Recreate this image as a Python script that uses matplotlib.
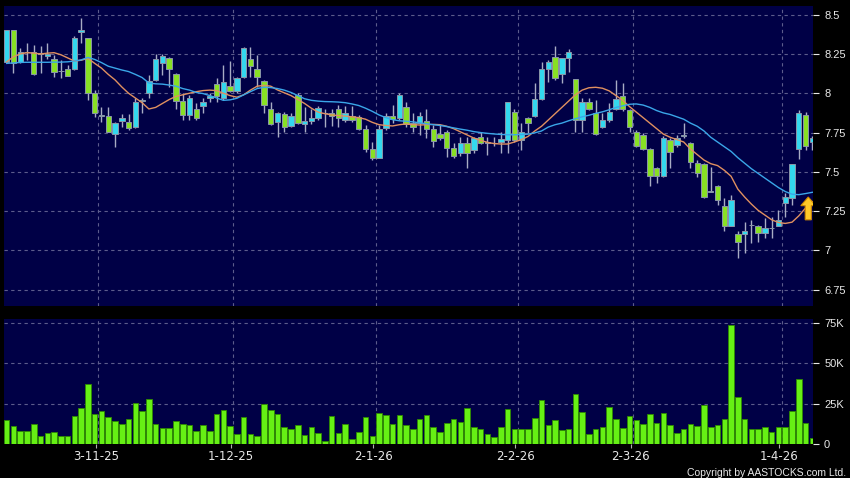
import numpy as np
import matplotlib
matplotlib.use('Agg')
import matplotlib.pyplot as plt
from matplotlib.patches import FancyArrow

# 日K数据
opens = [
    8.20, 8.40, 8.20, 8.26, 8.26, 8.25, 8.235, 8.22, 8.14, 8.155,
    8.155, 8.39, 8.35, 8.00, 7.856, 7.856, 7.74, 7.825, 7.82, 7.784,
    7.951, 8.00, 8.085, 8.191, 8.227, 8.121, 7.951, 7.862, 7.898, 7.922,
    7.972, 8.059, 7.968, 8.047, 8.015, 8.106, 8.22, 8.157, 8.081, 7.898,
    7.82, 7.869, 7.792, 7.989, 7.805, 7.824, 7.841, 7.873, 7.877, 7.898,
    7.83, 7.856, 7.852, 7.771, 7.644, 7.591, 7.778, 7.858, 7.841, 7.911,
    7.809, 7.809, 7.826, 7.771, 7.739, 7.752, 7.65, 7.619, 7.682, 7.636,
    7.72, 7.686, 7.682, 7.689, 7.703, 7.879, 7.703, 7.841, 7.856, 7.962,
    8.153, 8.229, 8.121, 8.222, 8.089, 7.83, 7.943, 7.877, 7.784, 7.83,
    7.898, 7.983, 7.894, 7.752, 7.735, 7.644, 7.523, 7.475, 7.703, 7.672,
    7.729, 7.686, 7.559, 7.549, 7.371, 7.411, 7.284, 7.157, 7.104, 7.106,
    7.159, 7.153, 7.11, 7.142, 7.157, 7.301, 7.333, 7.644, 7.862, 7.689,
]
closes = [
    8.40, 8.19, 8.26, 8.26, 8.12, 8.25, 8.25, 8.135, 8.14, 8.11,
    8.35, 8.40, 8.00, 7.877, 7.856, 7.756, 7.81, 7.84, 7.782, 7.943,
    7.951, 8.08, 8.218, 8.239, 8.153, 7.953, 7.862, 7.968, 7.841, 7.943,
    7.985, 7.983, 8.07, 8.015, 8.10, 8.29, 8.174, 8.106, 7.926, 7.805,
    7.873, 7.788, 7.856, 7.809, 7.826, 7.841, 7.909, 7.873, 7.856, 7.841,
    7.873, 7.83, 7.771, 7.646, 7.591, 7.771, 7.856, 7.837, 7.989, 7.803,
    7.784, 7.856, 7.771, 7.699, 7.718, 7.65, 7.602, 7.682, 7.619, 7.714,
    7.682, 7.686, 7.682, 7.708, 7.943, 7.703, 7.752, 7.809, 7.962, 8.153,
    8.201, 8.10, 8.222, 8.26, 7.83, 7.943, 7.90, 7.739, 7.83, 7.883,
    7.962, 7.898, 7.788, 7.667, 7.644, 7.475, 7.475, 7.714, 7.629, 7.714,
    7.729, 7.561, 7.492, 7.337, 7.379, 7.322, 7.157, 7.322, 7.051, 7.121,
    7.159, 7.11, 7.142, 7.142, 7.195, 7.343, 7.549, 7.873, 7.665, 7.718,
]
highs = [
    8.40, 8.40, 8.29, 8.32, 8.31, 8.30, 8.32, 8.245, 8.21, 8.18,
    8.365, 8.48, 8.35, 8.02, 7.91, 7.91, 7.82, 7.87, 7.87, 7.968,
    7.968, 8.117, 8.248, 8.248, 8.233, 8.127, 8.0, 7.99, 7.936, 7.968,
    8.0, 8.095, 8.18, 8.208, 8.106, 8.297, 8.292, 8.244, 8.085, 7.947,
    7.883, 7.883, 7.877, 8.0, 7.915, 7.90, 7.92, 7.90, 7.90, 7.926,
    7.92, 7.92, 7.862, 7.80, 7.693, 7.80, 7.873, 7.926, 8.0, 7.947,
    7.873, 7.883, 7.898, 7.80, 7.80, 7.765, 7.682, 7.72, 7.72, 7.72,
    7.756, 7.72, 7.72, 7.756, 7.947, 7.90, 7.809, 7.847, 8.068, 8.201,
    8.21, 8.30, 8.222, 8.282, 8.089, 7.968, 7.968, 7.958, 7.877, 7.936,
    8.085, 8.068, 7.898, 7.767, 7.746, 7.65, 7.534, 7.725, 7.714, 7.735,
    7.809, 7.693, 7.576, 7.555, 7.534, 7.417, 7.333, 7.354, 7.121, 7.184,
    7.195, 7.163, 7.205, 7.216, 7.258, 7.364, 7.549, 7.894, 7.883, 7.725,
]
lows = [
    8.19, 8.13, 8.19, 8.21, 8.115, 8.13, 8.22, 8.105, 8.10, 8.11,
    8.15, 8.32, 7.96, 7.85, 7.82, 7.752, 7.66, 7.785, 7.767, 7.78,
    7.877, 7.968, 8.08, 8.117, 8.042, 7.90, 7.83, 7.83, 7.83, 7.873,
    7.947, 7.947, 7.958, 8.011, 8.0, 8.10, 8.106, 8.042, 7.877, 7.80,
    7.72, 7.756, 7.788, 7.805, 7.756, 7.805, 7.83, 7.788, 7.79, 7.788,
    7.82, 7.82, 7.767, 7.629, 7.576, 7.589, 7.767, 7.81, 7.83, 7.788,
    7.756, 7.735, 7.714, 7.661, 7.70, 7.597, 7.59, 7.60, 7.523, 7.62,
    7.676, 7.61, 7.665, 7.62, 7.62, 7.693, 7.64, 7.75, 7.847, 7.958,
    8.074, 8.085, 8.064, 8.138, 7.756, 7.756, 7.894, 7.735, 7.778, 7.82,
    7.894, 7.887, 7.752, 7.66, 7.64, 7.411, 7.43, 7.47, 7.523, 7.66,
    7.714, 7.523, 7.47, 7.333, 7.369, 7.29, 7.127, 7.153, 6.951, 6.983,
    7.047, 7.057, 7.078, 7.078, 7.153, 7.216, 7.29, 7.58, 7.64, 7.64,
]

# 成交量 (千股)
volume_k = [
    14.6, 11.0, 7.9, 8.3, 12.1, 5.2, 6.9, 7.7, 5.2, 5.2,
    17.1, 22.1, 37.1, 18.5, 20.6, 16.7, 14.0, 12.7, 15.8, 25.2,
    20.4, 27.7, 12.1, 9.8, 10.2, 14.2, 12.1, 11.9, 8.3, 11.5,
    7.9, 18.3, 21.3, 11.0, 6.5, 16.7, 6.5, 5.2, 24.6, 21.3,
    18.3, 10.4, 9.0, 11.5, 5.8, 10.6, 6.9, 1.9, 17.1, 6.9,
    12.1, 3.1, 7.7, 16.5, 5.2, 19.0, 17.7, 12.5, 18.1, 11.5,
    9.0, 15.2, 18.1, 10.8, 7.3, 13.3, 15.2, 13.75, 22.5, 10.8,
    9.4, 6.25, 4.4, 10.4, 21.5, 9.6, 9.0, 9.0, 16.25, 27.1,
    11.7, 15.0, 8.5, 9.6, 31.25, 19.6, 6.5, 9.0, 10.8, 22.7,
    15.8, 9.8, 17.1, 14.8, 12.7, 18.3, 13.3, 19.4, 11.5, 7.1,
    9.2, 12.1, 11.0, 24.4, 10.8, 11.9, 15.8, 74.0, 29.2, 15.6,
    9.6, 9.2, 10.8, 7.7, 10.6, 10.6, 20.4, 40.0, 12.9, 4.0,
]

# 移动平均线
ma_fast = [
    8.20, 8.232, 8.25, 8.258, 8.255, 8.25, 8.255, 8.258, 8.245, 8.225,
    8.205, 8.21, 8.222, 8.19, 8.16, 8.12, 8.085, 8.04, 8.0, 7.97,
    7.94, 7.90, 7.91, 7.935, 7.96, 7.98, 7.99, 8.0, 8.01, 8.017,
    8.02, 8.017, 8.0, 7.985, 7.975, 7.99, 8.02, 8.045, 8.05, 8.045,
    8.021, 8.003, 7.985, 7.96, 7.935, 7.905, 7.88, 7.87, 7.862, 7.858,
    7.855, 7.85, 7.845, 7.835, 7.815, 7.80, 7.795, 7.792, 7.80, 7.805,
    7.80, 7.798, 7.80, 7.802, 7.80, 7.79, 7.775, 7.755, 7.735, 7.715,
    7.70, 7.688, 7.68, 7.677, 7.677, 7.69, 7.705, 7.725, 7.76, 7.79,
    7.83, 7.87, 7.91, 7.95, 7.99, 8.02, 8.035, 8.038, 8.032, 8.015,
    7.985, 7.955, 7.915, 7.88, 7.845, 7.81, 7.775, 7.74, 7.72, 7.705,
    7.69, 7.645, 7.61, 7.575, 7.552, 7.54, 7.51, 7.472, 7.39, 7.34,
    7.295, 7.255, 7.225, 7.195, 7.178, 7.172, 7.18, 7.22, 7.27, 7.31,
]
ma_slow = [
    8.19, 8.193, 8.196, 8.197, 8.197, 8.197, 8.197, 8.198, 8.198, 8.20,
    8.205, 8.212, 8.228, 8.215, 8.195, 8.172, 8.16, 8.148, 8.138, 8.12,
    8.10, 8.065, 8.06, 8.058, 8.052, 8.045, 8.03, 8.02, 8.005, 7.998,
    7.985, 7.97, 7.955, 7.958, 7.968, 7.99, 8.01, 8.03, 8.038, 8.036,
    8.03, 8.02, 8.005, 7.985, 7.965, 7.955, 7.95, 7.947, 7.946, 7.944,
    7.94, 7.932, 7.922, 7.905, 7.885, 7.862, 7.845, 7.832, 7.825, 7.822,
    7.818, 7.812, 7.806, 7.80, 7.795, 7.788, 7.78, 7.772, 7.765, 7.756,
    7.75, 7.745, 7.741, 7.738, 7.736, 7.736, 7.737, 7.74, 7.748, 7.76,
    7.785, 7.80, 7.81, 7.825, 7.838, 7.85, 7.86, 7.872, 7.882, 7.895,
    7.91, 7.92, 7.93, 7.932, 7.925, 7.91, 7.89, 7.875, 7.865, 7.85,
    7.835, 7.81, 7.79, 7.76, 7.72, 7.69, 7.66, 7.63, 7.59, 7.555,
    7.52, 7.49, 7.46, 7.43, 7.40, 7.375, 7.358, 7.355, 7.362, 7.37,
]

date_idx = [13, 33, 54, 75, 92, 114]
date_labels = ['3-11-25', '1-12-25', '2-1-26', '2-2-26', '2-3-26', '1-4-26']
price_ticks = [6.75, 7, 7.25, 7.5, 7.75, 8, 8.25, 8.5]
price_tick_labels = ['6.75', '7', '7.25', '7.5', '7.75', '8', '8.25', '8.5']
vol_ticks = [0, 25, 50, 75]
vol_tick_labels = ['0', '25K', '50K', '75K']

# 颜色
bg = '#000046'
up_c = '#33d8ee'
dn_c = '#88e024'
grid_c = '#5c5c8c'
txt_c = '#e8e8e8'

o = np.array(opens)
c = np.array(closes)
h = np.array(highs)
l = np.array(lows)
x = np.arange(len(o))

fig = plt.figure(figsize=(8.5, 4.78), dpi=100, facecolor='black')
ax1 = fig.add_axes([4/850, 1-305.5/478, 809/850, 299.5/478])
ax2 = fig.add_axes([4/850, 1-444/478, 809/850, 125/478])

for ax in (ax1, ax2):
    ax.set_facecolor(bg)
    for s in ax.spines.values():
        s.set_visible(False)
    ax.set_xlim(-0.4, len(o) - 0.9)
    for d in date_idx:
        ax.axvline(d + 0.5, color=grid_c, lw=0.8, ls=(0, (3, 3)), zorder=0)
    ax.yaxis.tick_right()
    ax.tick_params(axis='y', colors=txt_c, labelsize=8, length=4, width=0.8,
                   pad=4, direction='out')
    ax.tick_params(axis='x', colors='#b0b0b0', length=3, width=0.8)

# 价格面板
ax1.set_ylim(6.65, 8.555)
ax1.set_yticks(price_ticks)
ax1.set_yticklabels(price_tick_labels, family='Liberation Sans')
for t in price_ticks:
    ax1.axhline(t, color=grid_c, lw=0.8, ls=(0, (3, 3)), zorder=0)
ax1.set_xticks([])

ax1.vlines(x, l, h, color='#a8acc4', lw=1.0, zorder=2)
up = c >= o
body_bot = np.minimum(o, c)
body_h = np.maximum(np.abs(c - o), 0.004)
ax1.bar(x[up], body_h[up], bottom=body_bot[up], width=0.8, color=up_c,
        edgecolor='#8a96a8', linewidth=0.7, zorder=3)
ax1.bar(x[~up], body_h[~up], bottom=body_bot[~up], width=0.8, color=dn_c,
        edgecolor='#8a96a8', linewidth=0.7, zorder=3)

ax1.plot(x, ma_fast, color='#e09060', lw=1.0, zorder=4)
ax1.plot(x, ma_slow, color='#3aa6e8', lw=1.0, zorder=4)

# 黄色箭头
ax1.add_patch(FancyArrow(len(o) - 1.6, 7.195, 0, 0.145, width=0.9, head_width=2.2,
                         head_length=0.055, length_includes_head=True,
                         facecolor='#ffc928', edgecolor='#d08a00', lw=0.8, zorder=5))

# 成交量面板
ax2.set_ylim(0, 77.5)
ax2.set_yticks(vol_ticks)
ax2.set_yticklabels(vol_tick_labels, family='Liberation Sans')
for t in vol_ticks[1:]:
    ax2.axhline(t, color=grid_c, lw=0.8, ls=(0, (3, 3)), zorder=0)
ax2.bar(x, volume_k, width=0.82, color='#66f014', edgecolor='#2f8a00',
        linewidth=0.6, zorder=3)
ax2.set_xticks([d + 0.15 for d in date_idx])
ax2.set_xticklabels(date_labels, color=txt_c, fontsize=8.5, family='DejaVu Sans')
ax2.tick_params(axis='x', pad=1.5)

fig.text(846/850, 1-475.5/478, 'Copyright by AASTOCKS.com Ltd.', color=txt_c,
         fontsize=7.5, family='Liberation Sans', ha='right', va='baseline')

fig.savefig('out.png', dpi=100, facecolor='black')
